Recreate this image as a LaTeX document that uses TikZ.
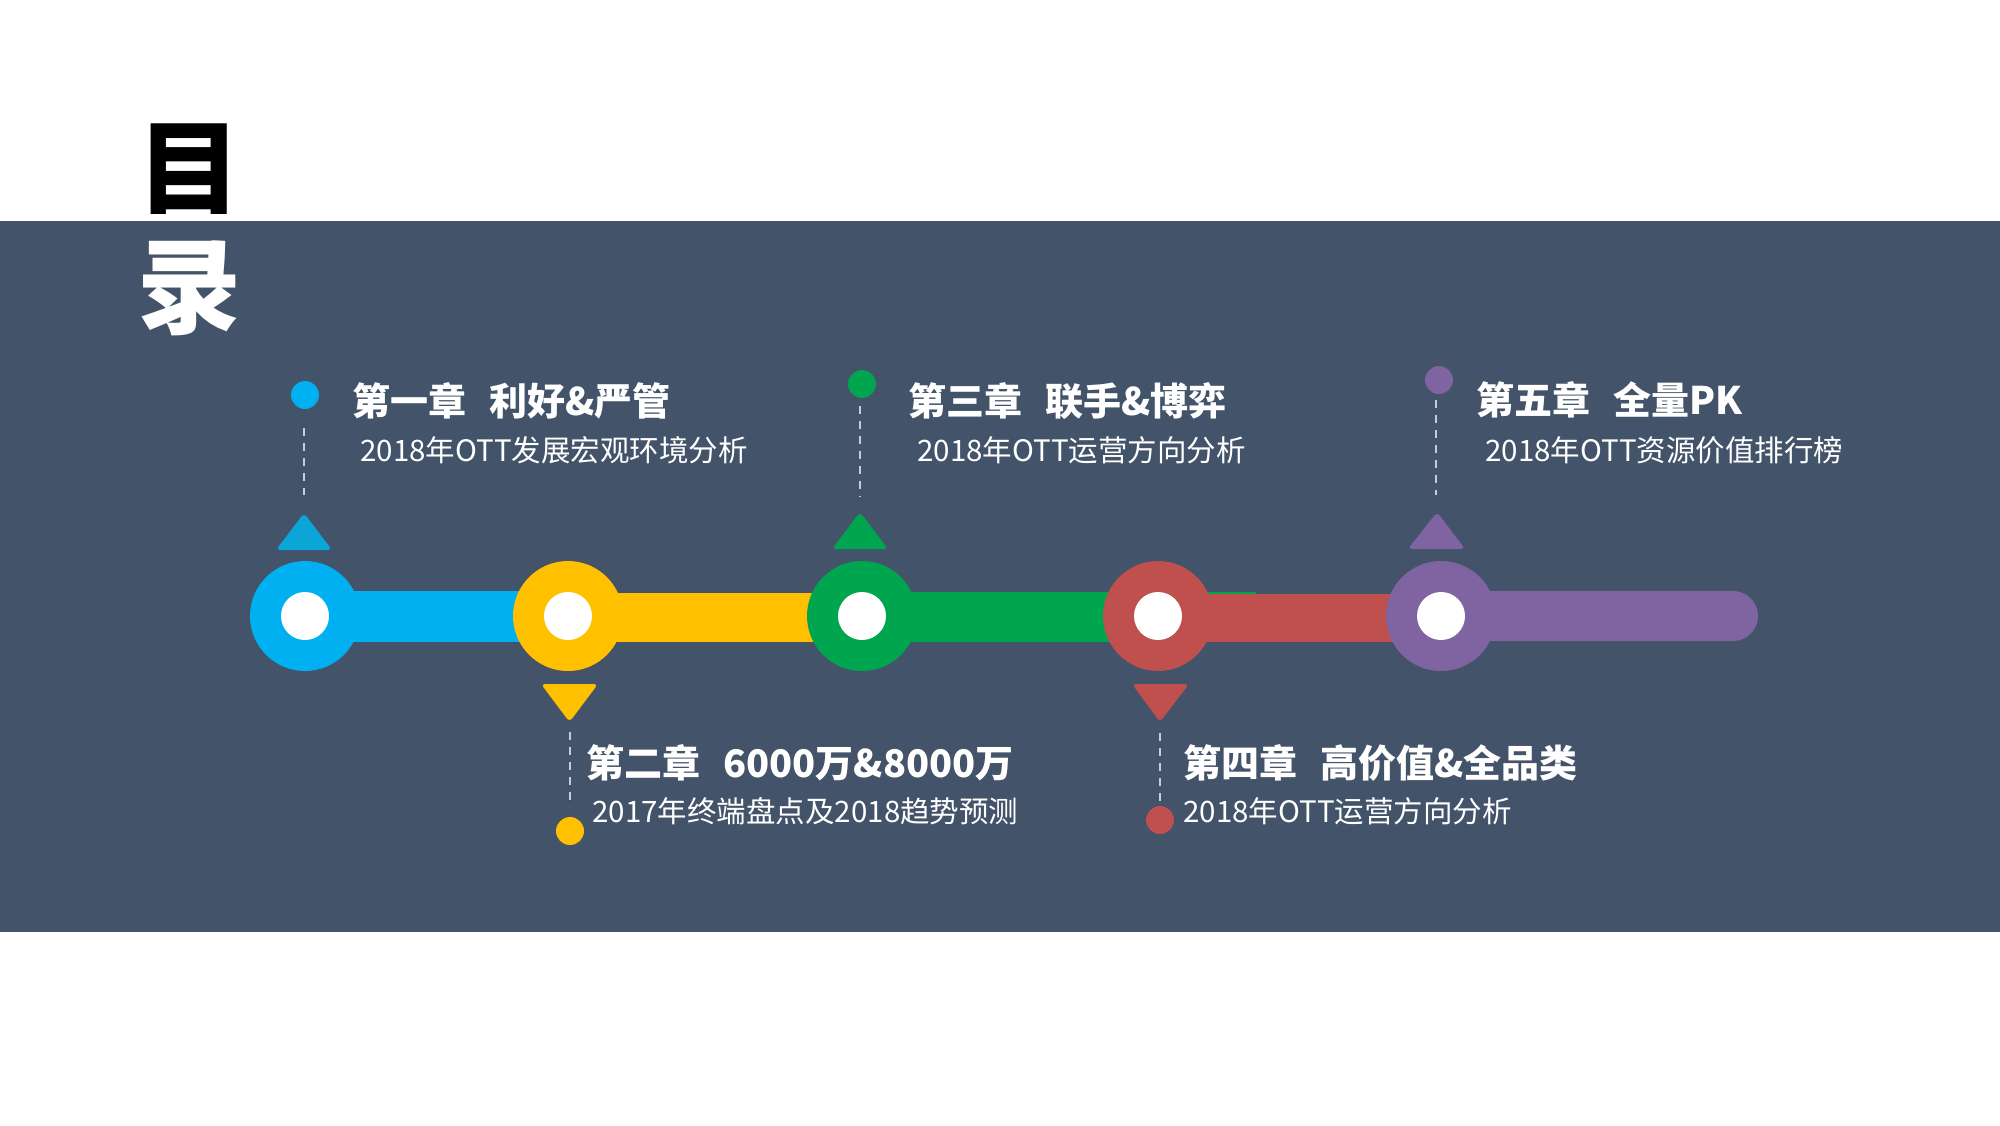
\documentclass[tikz,border=0pt]{standalone}
\usepackage{fontspec}
\newfontfamily\cjk{Noto Sans CJK SC}
\definecolor{bg}{HTML}{435369}
\definecolor{cblue}{HTML}{00B0F0}
\definecolor{cblued}{HTML}{0BA5D8}
\definecolor{cyel}{HTML}{FFC000}
\definecolor{cgreen}{HTML}{00A54F}
\definecolor{cred}{HTML}{C0504D}
\definecolor{cpurp}{HTML}{8064A2}
\definecolor{dashc}{HTML}{C9CDD3}
\begin{document}
\begin{tikzpicture}[x=0.5pt,y=-0.5pt,
  ring/.style={circle,inner sep=0,minimum size=55pt},
  hole/.style={circle,inner sep=0,minimum size=24pt,fill=white},
  dot/.style={circle,inner sep=0,minimum size=14pt},
  dashline/.style={draw=dashc,line width=1pt,dash pattern=on 4pt off 3.5pt},
  ttl/.style={anchor=west,inner sep=0,text=white,font=\cjk\bfseries\fontsize{19}{21}\selectfont},
  sub/.style={anchor=west,inner sep=0,text=white,font=\cjk\fontsize{14.75}{17}\selectfont},
  big/.style={inner sep=0,font=\cjk\bfseries\fontsize{52}{56}\selectfont}]
\useasboundingbox (0,0) rectangle (2000,1125);
\fill[white] (0,0) rectangle (2000,1125);
\begin{scope}
\clip (0,0) rectangle (2000,213);
\node[big,text=black] (mu) at (189,170) {目};
\end{scope}
\fill[bg] (0,221) rectangle (2000,932);
\node[big,text=white] (lu) at (189,288) {录};

% bars
\fill[cblue] (305,591) rectangle (568,642);
\fill[cyel] (568,593) rectangle (862,642);
\fill[cgreen] (862,592) rectangle (1256,642);
\fill[cred] (1158,594) rectangle (1441,642);
\fill[cpurp] (1441,591) rectangle (1733,641);
\fill[cpurp] (1733,616) circle[radius=12.5pt];

% rings
\node[ring,fill=cblue] (c1) at (305,616) {};
\node[hole] (h1) at (c1) {};
\node[ring,fill=cyel] (c2) at (568,616) {};
\node[hole] (h2) at (c2) {};
\node[ring,fill=cgreen] (c3) at (862,616) {};
\node[hole] (h3) at (c3) {};
\node[ring,fill=cred] (c4) at (1158,616) {};
\node[hole] (h4) at (c4) {};
\node[ring,fill=cpurp] (c5) at (1441,616) {};
\node[hole] (h5) at (c5) {};

% chapter 1
\fill[cblued,rounded corners=2pt] (276,550) -- (304,513) -- (332,550) -- cycle;
\node[dot,fill=cblue] (p1) at (305,395) {};
\coordinate (a1) at (304,428); \coordinate (b1) at (304,495);
\draw[dashline] (a1) -- (b1);
\node[ttl] (t1) at (352,401) {第一章\hspace{0.6em}利好\&严管};
\node[sub] (s1) at (360,450) {2018年OTT发展宏观环境分析};

% chapter 2
\fill[cyel,rounded corners=2pt] (541,684) -- (569.5,722) -- (598,684) -- cycle;
\node[dot,fill=cyel] (p2) at (570,831) {};
\coordinate (a2) at (569.5,732); \coordinate (b2) at (569.5,807);
\draw[dashline] (a2) -- (b2);
\node[ttl] (t2) at (586,763) {第二章\hspace{0.6em}6000万\&8000万};
\node[sub] (s2) at (592,811) {2017年终端盘点及2018趋势预测};

% chapter 3
\fill[cgreen,rounded corners=2pt] (832,549) -- (860,512) -- (888,549) -- cycle;
\node[dot,fill=cgreen] (p3) at (862,384) {};
\coordinate (a3) at (860,406); \coordinate (b3) at (860,497);
\draw[dashline] (a3) -- (b3);
\node[ttl] (t3) at (908,401) {第三章\hspace{0.6em}联手\&博弈};
\node[sub] (s3) at (917,450) {2018年OTT运营方向分析};

% chapter 4
\fill[cred,rounded corners=2pt] (1132,684) -- (1160,722) -- (1189,684) -- cycle;
\node[dot,fill=cred] (p4) at (1160,820) {};
\coordinate (a4) at (1160,733); \coordinate (b4) at (1160,807);
\draw[dashline] (a4) -- (b4);
\node[ttl] (t4) at (1183,763) {第四章\hspace{0.6em}高价值\&全品类};
\node[sub] (s4) at (1183,811) {2018年OTT运营方向分析};

% chapter 5
\fill[cpurp,rounded corners=2pt] (1408,549) -- (1437,512) -- (1465,549) -- cycle;
\node[dot,fill=cpurp] (p5) at (1439,380) {};
\coordinate (a5) at (1436,400); \coordinate (b5) at (1436,495);
\draw[dashline] (a5) -- (b5);
\node[ttl] (t5) at (1476,400) {第五章\hspace{0.6em}全量PK};
\node[sub] (s5) at (1485,450) {2018年OTT资源价值排行榜};
\end{tikzpicture}
\end{document}
